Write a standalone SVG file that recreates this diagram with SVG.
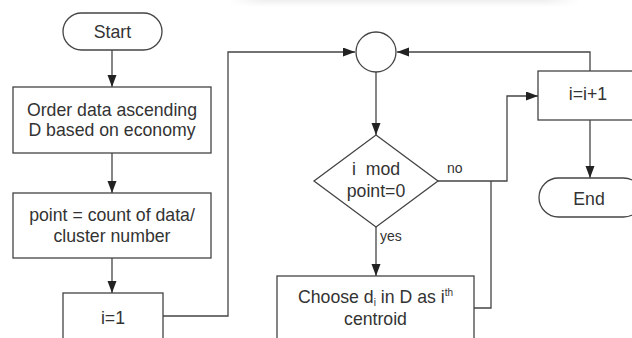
<svg xmlns="http://www.w3.org/2000/svg" width="632" height="338" viewBox="0 0 632 338">
<defs>
<marker id="arr" markerUnits="userSpaceOnUse" markerWidth="13" markerHeight="10" refX="12" refY="4.5" orient="auto">
<path d="M0,0 L12,4.5 L0,9 z" fill="#222"/>
</marker>
<linearGradient id="shade" x1="0" y1="0" x2="0" y2="1">
<stop offset="0" stop-color="#efefef"/>
<stop offset="1" stop-color="#ffffff"/>
</linearGradient>
<linearGradient id="shadeH" x1="0" y1="0" x2="1" y2="0">
<stop offset="0" stop-color="#fff" stop-opacity="1"/>
<stop offset="0.1" stop-color="#fff" stop-opacity="0"/>
<stop offset="0.9" stop-color="#fff" stop-opacity="0"/>
<stop offset="1" stop-color="#fff" stop-opacity="1"/>
</linearGradient>
</defs>
<style>
.shape{fill:#fff;stroke:#444;stroke-width:1.3}
.line{fill:none;stroke:#444;stroke-width:1.3}
.t{font-family:"Liberation Sans",Arial,sans-serif;font-size:17.7px;fill:#333;text-anchor:middle}
.lbl{font-family:"Liberation Sans",Arial,sans-serif;font-size:14px;fill:#333}
.small{font-size:10px}
</style>
<rect width="632" height="338" fill="#fff"/>
<rect x="228" y="0" width="352" height="7" fill="url(#shade)"/>
<rect x="228" y="0" width="352" height="7" fill="url(#shadeH)"/>

<g id="connectors">
<line class="line" x1="112" y1="50" x2="112" y2="87" marker-end="url(#arr)"/>
<line class="line" x1="112" y1="153" x2="112" y2="193" marker-end="url(#arr)"/>
<line class="line" x1="112" y1="258" x2="112" y2="293" marker-end="url(#arr)"/>
<polyline class="line" points="163,316 228,316 228,52 355,52" marker-end="url(#arr)"/>
<polyline class="line" points="590,71 590,52 397,52" marker-end="url(#arr)"/>
<line class="line" x1="376" y1="72" x2="376" y2="135" marker-end="url(#arr)"/>
<line class="line" x1="376" y1="227" x2="376" y2="276" marker-end="url(#arr)"/>
<polyline class="line" points="438,181 507,181 507,96 538,96" marker-end="url(#arr)"/>
<polyline class="line" points="474,308 491,308 491,181"/>
<line class="line" x1="590" y1="120" x2="590" y2="178" marker-end="url(#arr)"/>
<text class="lbl" x="447" y="173">no</text>
<text class="lbl" x="380" y="241">yes</text>
</g>

<g id="start">
<rect class="shape" x="63" y="13" width="99" height="37" rx="18.5"/>
<text class="t" x="112.5" y="38">Start</text>
</g>

<g id="order">
<rect class="shape" x="13" y="87" width="198" height="66"/>
<text class="t" x="112" y="116">Order data ascending</text>
<text class="t" x="112" y="136">D based on economy</text>
</g>

<g id="point">
<rect class="shape" x="13" y="193" width="198" height="65"/>
<text class="t" x="112" y="221">point = count of data/</text>
<text class="t" x="112" y="242">cluster number</text>
</g>

<g id="init">
<rect class="shape" x="63" y="293" width="100" height="60"/>
<text class="t" x="113" y="324">i=1</text>
</g>

<g id="junction">
<circle class="shape" cx="376" cy="52" r="20"/>
</g>

<g id="decision">
<polygon class="shape" points="376,135 438,181 376,227 314,181"/>
<text class="t" x="376" y="175" xml:space="preserve">i  mod</text>
<text class="t" x="376" y="197">point=0</text>
</g>

<g id="choose">
<rect class="shape" x="277" y="276" width="197" height="80"/>
<text class="t" x="375.5" y="303">Choose d<tspan class="small" dy="2.5">i</tspan><tspan dy="-2.5"> in D as i</tspan><tspan class="small" dy="-7">th</tspan></text>
<text class="t" x="375.5" y="325">centroid</text>
</g>

<g id="increment">
<rect class="shape" x="538" y="71" width="104" height="49"/>
<text class="t" x="588" y="100">i=i+1</text>
</g>

<g id="end">
<rect class="shape" x="539" y="178" width="104" height="39" rx="19.5"/>
<text class="t" x="589" y="205">End</text>
</g>
</svg>
